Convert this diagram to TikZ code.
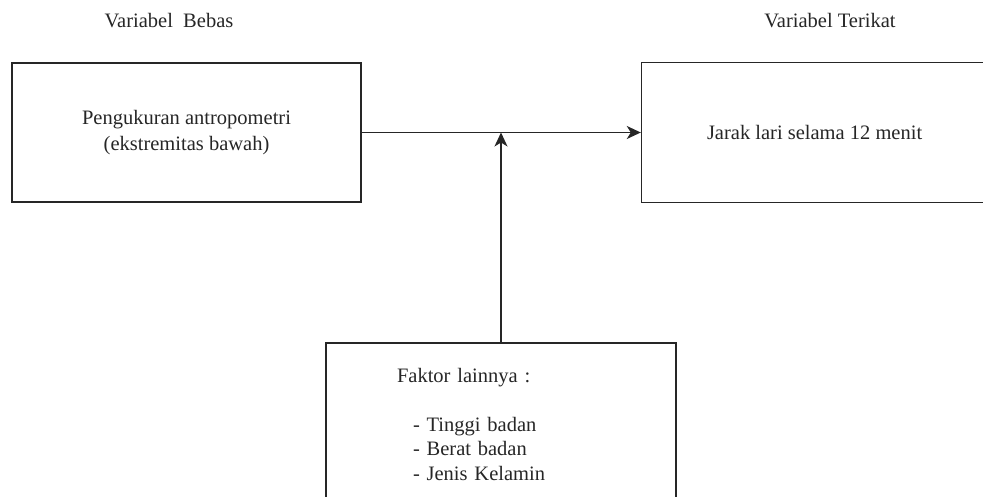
\documentclass[tikz,border=0pt]{standalone}
\usepackage{fontspec}
\setmainfont{Liberation Serif}
\usetikzlibrary{arrows.meta, positioning, calc}
\tikzset{
    varbox/.style={
        rectangle,
        draw=black!85,
        line width=1.6pt,
        align=center,
        text=black!85,
        font=\fontsize{20.5}{26}\selectfont
    },
    heading/.style={
        align=center,
        text=black!85,
        font=\fontsize{20.5}{26}\selectfont
    },
    arrow/.style={line width=1.6pt, draw=black!85, -{Stealth[length=14pt, width=13pt, inset=4pt]}}
}
\begin{document}
\begin{tikzpicture}[x=1pt, y=1pt]

        \useasboundingbox (0,0) rectangle (983,-497);
        \clip (0,0) rectangle (983,-497);

        \node (indep) [varbox, minimum width=349pt, minimum height=139pt] at (186.5,-132.5) {Pengukuran antropometri\\(ekstremitas bawah)};
        \node (dep) [varbox, minimum width=346pt, minimum height=140pt, right=279pt of indep.east, anchor=west] {Jarak lari selama 12 menit};
        \node (other) [varbox, minimum width=350pt, minimum height=162pt, text width=208pt, inner xsep=71pt, align=left,
            font=\fontsize{20.5}{24.5}\selectfont] at (501,-424)
            {Faktor lainnya :\\[24.5pt]\hspace*{16pt}- Tinggi badan\\\hspace*{16pt}- Berat badan\\\hspace*{16pt}- Jenis Kelamin};

        \node (headindep) [heading] at (169,-21) {Variabel\ \ Bebas};
        \node (headdep) [heading] at (830,-21) {Variabel Terikat};

        \coordinate (meet) at (other.north |- indep.east);

        \draw [arrow] (indep.east) -- (dep.west);
        \draw [arrow] (other.north) -- (meet);

    \end{tikzpicture}
\end{document}
